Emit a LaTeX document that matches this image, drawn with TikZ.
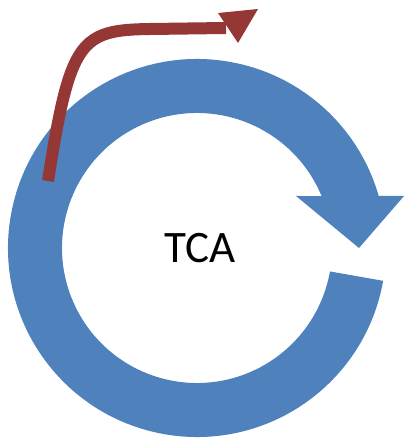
\documentclass[tikz,border=0pt]{standalone}
\usepackage{fontspec}
\setmainfont{Carlito}
\usepackage{pgf,tikz}
\definecolor{cycleblue}{RGB}{79,129,189}
\definecolor{exitred}{RGB}{149,55,53}
\tikzset{cyclefill/.style={fill=cycleblue,draw=none},
  exitline/.style={draw=exitred,line width=12pt,line cap=butt},
  exithead/.style={fill=exitred,draw=none}}

\begin{document}
\begin{tikzpicture}[line join=miter,x=1pt,y=1pt]
\useasboundingbox (0,0) rectangle (407,439);
\coordinate (hub) at (197,191);
% blue cycle arrow
\fill[cyclefill,shift={(hub)}] (-10:189) arc[start angle=-10,end angle=-344,radius=189]
  -- (207,52) -- (162,0) -- (99,52) -- (22.65:135)
  arc[start angle=-337.35,end angle=-10,radius=135] -- cycle;
\draw (200,176) node[anchor=base] {\fontsize{45}{54}\selectfont TCA};
% red exit arrow
\coordinate (exittail) at (48,258);
\coordinate (exittip) at (226,411);
\draw[exitline] (exittail) .. controls (70,399) and (80,409) .. (150,410) -- (exittip);
\fill[exithead] (218,426) -- (258,430) -- (238,396) -- cycle;
\end{tikzpicture}
\end{document}
